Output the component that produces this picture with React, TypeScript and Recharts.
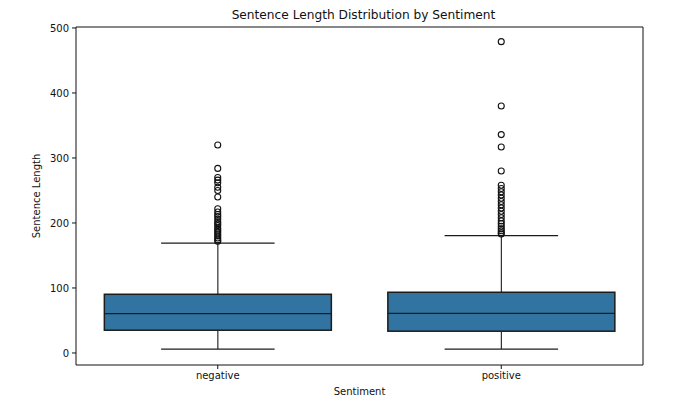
import React from 'react';
import { ComposedChart, Bar, Scatter, XAxis, YAxis, Label, ReferenceLine } from 'recharts';

const categories = ['negative', 'positive'];
const whiskerLow = [6, 6];
const quartile1 = [35, 33.5];
const medians = [60.5, 61];
const quartile3 = [90.3, 93.4];
const whiskerHigh = [169, 180.5];

const negativeOutliers = [320, 284, 270, 266, 262, 255, 250, 240, 222, 217, 213, 210, 206, 202, 199, 196, 192, 189, 186, 183, 180, 177, 174, 172];
const positiveOutliers = [479, 380, 336, 317, 280, 258, 253, 248, 243, 238, 233, 228, 223, 218, 213, 208, 203, 199, 195, 191, 188, 185, 183];

const yTicks = [0, 100, 200, 300, 400, 500];
const yDomain = [-18.5, 501.5];

const boxData = categories.map((name, i) => ({
  name,
  min: whiskerLow[i],
  q1: quartile1[i],
  median: medians[i],
  q3: quartile3[i],
  max: whiskerHigh[i],
}));

const outlierData = [
  ...negativeOutliers.map((value) => ({ name: categories[0], value })),
  ...positiveOutliers.map((value) => ({ name: categories[1], value })),
];

const FONT = 'DejaVu Sans, sans-serif';
const EDGE = '#1c1c1c';

const BoxShape = (props: any) => {
  const { x, y, width, height, payload } = props;
  if (x == null || y == null || !payload) return null;
  const { min, q1, median, q3, max } = payload;
  const py = (v: number) => y + (height * (max - v)) / (max - min);
  const cx = x + width / 2;
  const capL = x + width / 4;
  const capR = x + (3 * width) / 4;
  return (
    <g>
      <line x1={cx} x2={cx} y1={py(max)} y2={py(q3)} stroke={EDGE} strokeWidth={1.1} />
      <line x1={cx} x2={cx} y1={py(q1)} y2={py(min)} stroke={EDGE} strokeWidth={1.1} />
      <line x1={capL} x2={capR} y1={py(max)} y2={py(max)} stroke={EDGE} strokeWidth={1.1} />
      <line x1={capL} x2={capR} y1={py(min)} y2={py(min)} stroke={EDGE} strokeWidth={1.1} />
      <rect x={x} y={py(q3)} width={width} height={py(q1) - py(q3)} fill="#3274a1" stroke={EDGE} strokeWidth={1.5} />
      <line x1={x} x2={x + width} y1={py(median)} y2={py(median)} stroke={EDGE} strokeWidth={1.1} />
    </g>
  );
};

const OutlierShape = (props: any) => {
  const { cx, cy } = props;
  if (cx == null || cy == null) return null;
  return <circle cx={cx} cy={cy} r={3} fill="none" stroke="#111" strokeWidth={1.1} />;
};

export default function App() {
  return (
    <div style={{ position: 'absolute', left: 0, top: 0, width: 680, height: 404, background: '#fff', fontFamily: FONT }}>
      <div
        style={{
          position: 'absolute',
          left: 80,
          width: 567,
          top: 7,
          textAlign: 'center',
          fontSize: 12.2,
          lineHeight: '16px',
          color: '#111',
          fontFamily: FONT,
          whiteSpace: 'nowrap',
        }}
      >
        Sentence Length Distribution by Sentiment
      </div>
      <ComposedChart
        width={680}
        height={404}
        data={boxData}
        margin={{ top: 27, right: 37, bottom: 0, left: 0 }}
        barCategoryGap="10%"
      >
        <XAxis
          dataKey="name"
          type="category"
          allowDuplicatedCategory={false}
          height={39}
          tickSize={4}
          tickMargin={3}
          axisLine={{ stroke: '#111', strokeWidth: 1 }}
          tickLine={{ stroke: '#111' }}
          tick={{ fill: '#111', fontSize: 10, fontFamily: FONT }}
        >
          <Label value="Sentiment" position="insideBottom" offset={9} style={{ fill: '#111', fontSize: 10, fontFamily: FONT }} />
        </XAxis>
        <YAxis
          type="number"
          domain={yDomain}
          ticks={yTicks}
          allowDataOverflow
          width={76}
          tickSize={4}
          tickMargin={3}
          axisLine={{ stroke: '#111', strokeWidth: 1 }}
          tickLine={{ stroke: '#111' }}
          tick={{ fill: '#111', fontSize: 10, fontFamily: FONT }}
        >
          <Label
            value="Sentence Length"
            angle={-90}
            position="insideLeft"
            offset={36}
            style={{ fill: '#111', fontSize: 10, fontFamily: FONT, textAnchor: 'middle' }}
          />
        </YAxis>
        <ReferenceLine y={yDomain[1]} stroke="#111" strokeWidth={1} ifOverflow="visible" />
        <ReferenceLine x={categories[1]} position="end" stroke="#111" strokeWidth={1} ifOverflow="visible" />
        <Bar
          dataKey={(d: any) => [d.min, d.max]}
          shape={<BoxShape />}
          isAnimationActive={false}
        />
        <Scatter data={outlierData} dataKey="value" shape={<OutlierShape />} isAnimationActive={false} />
      </ComposedChart>
    </div>
  );
}
